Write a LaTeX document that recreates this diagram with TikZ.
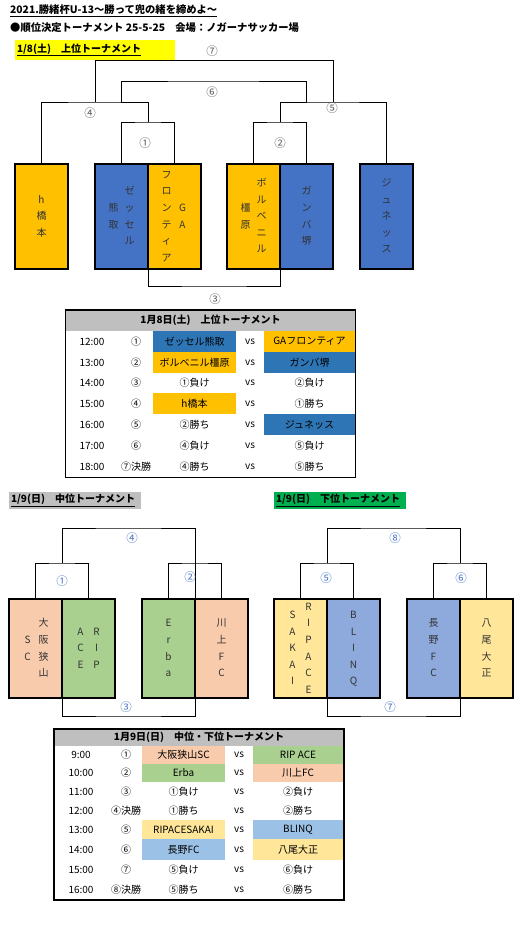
\documentclass[tikz,border=0pt]{standalone}
\usepackage{fontspec}
\setmainfont{Noto Sans CJK JP}
\usepackage{tikz}

\definecolor{teamor}{HTML}{FFC000}
\definecolor{teambl}{HTML}{4472C4}
\definecolor{cellbl}{HTML}{2E75B6}
\definecolor{peach}{HTML}{F8CBAD}
\definecolor{leaf}{HTML}{A9D08E}
\definecolor{cream}{HTML}{FFE699}
\definecolor{sky}{HTML}{8EA9DB}
\definecolor{skylt}{HTML}{9BC2E6}
\definecolor{hgray}{HTML}{BFBFBF}
\definecolor{tagyel}{HTML}{FFFF00}
\definecolor{taggrn}{HTML}{00B050}
\definecolor{labblue}{HTML}{4472C4}

\renewcommand{\arraystretch}{1.38}
\newcommand{\tate}[1]{\makebox[16pt]{\begin{tabular}[c]{@{}c@{}}#1\end{tabular}}}

\begin{document}
\begin{tikzpicture}[x=1pt, y=-1pt,
    font=\fontsize{10}{12}\selectfont,
    team/.style={draw, line width=1.4pt, minimum width=53pt, inner sep=0pt, text=black!80},
    topteam/.style={team, minimum height=105pt},
    midteam/.style={team, minimum height=99pt},
    bline/.style={line width=0.8pt},
    rnd/.style={text=black!65, inner sep=1pt, font=\fontsize{11.5}{12}\selectfont},
    rndb/.style={text=labblue, inner sep=1pt, font=\fontsize{11.5}{12}\selectfont},
    daytag/.style={inner sep=2pt, align=left, font=\bfseries\fontsize{10}{12}\selectfont},
    head/.style={fill=hgray, minimum width=290pt, inner sep=0pt, font=\bfseries\fontsize{10}{12}\selectfont},
    cellA/.style={minimum width=83pt, inner sep=0pt},
    cellB/.style={minimum width=91pt, inner sep=0pt},
    cellC/.style={minimum width=90pt, inner sep=0pt},
    txt/.style={inner sep=0pt}
  ]
  \useasboundingbox[fill=white] (0,0) rectangle (523,925);

  % titles
  \node[txt, anchor=west, font=\bfseries\fontsize{10.3}{12}\selectfont] (title) at (10,11) {\underline{2021.勝緒杯U-13～勝って兜の緒を締めよ～}};
  \node[txt, anchor=west, font=\bfseries\fontsize{10.3}{12}\selectfont] (subtitle) at (10,28) {●順位決定トーナメント 25-5-25　会場：ノガーナサッカー場};
  \node[daytag, fill=tagyel, minimum width=160pt, minimum height=20pt, text width=156pt] (upper) at (95,50) {\underline{1/8(土)　上位トーナメント}};

  % upper bracket teams
  \node[topteam, fill=teamor] (hashi) at (41.5,216.5) {\tate{h\\橋\\本}};
  \node[topteam, fill=teambl] (zesser) at (121.5,216.5) {\tate{熊\\取}\tate{ゼ\\ッ\\セ\\ル}};
  \node[topteam, fill=teamor] (ga) at (174.5,216.5) {\tate{フ\\ロ\\ン\\テ\\ィ\\ア}\tate{G\\A}};
  \node[topteam, fill=teamor] (borbe) at (253.5,216.5) {\tate{橿\\原}\tate{ボ\\ル\\ベ\\ニ\\ル}};
  \node[topteam, fill=teambl] (gamba) at (306.5,216.5) {\tate{ガ\\ン\\バ\\堺}};
  \node[topteam, fill=teambl] (junesse) at (386.5,216.5) {\tate{ジ\\ュ\\ネ\\ッ\\ス}};

  \coordinate (r1) at (148,122);
  \coordinate (r2) at (280,122);
  \coordinate (r3) at (214,286);
  \coordinate (r4) at (94,102);
  \coordinate (r5) at (333,102);
  \coordinate (s4) at (121,102);
  \coordinate (s5) at (306,102);
  \coordinate (r6) at (213,81);
  \coordinate (t4) at (95,102);
  \coordinate (r7) at (214,60.5);

  \draw[bline] (zesser.north) |- (r1) -| (ga.north);
  \draw[bline] (borbe.north) |- (r2) -| (gamba.north);
  \draw[bline] (hashi.north) |- (r4) -| (r1);
  \draw[bline] (r2) |- (r5) -| (junesse.north);
  \draw[bline] (s4) |- (r6) -| (s5);
  \draw[bline] (t4) |- (r7) -| (r5);
  \draw[bline] (zesser.south east) |- (r3) -| (borbe.south east);

  \node[rnd] (u1) at (145,143) {①};
  \node[rnd] (u2) at (280,143) {②};
  \node[rnd] (u3) at (215,299) {③};
  \node[rnd] (u4) at (90,113) {④};
  \node[rnd] (u5) at (332,108) {⑤};
  \node[rnd] (u6) at (212,92) {⑥};
  \node[rnd] (u7) at (212,51) {⑦};

  % table, 1/8
  \node[head, minimum height=21pt] (head1) at (210.5,320.5) {1月8日(土)　上位トーナメント};
  \node[txt] (t1a) at (92,341.5) {12:00}; \node[txt] (t1b) at (136,341.5) {①};
  \node[cellA, fill=cellbl, minimum height=21pt] (t1c) at (194.5,341.5) {ゼッセル熊取};
  \node[txt] (t1d) at (250,341.5) {vs};
  \node[cellB, fill=teamor, minimum height=21pt] (t1e) at (309.5,341.5) {GAフロンティア};
  \node[txt] (t2a) at (92,362.5) {13:00}; \node[txt] (t2b) at (136,362.5) {②};
  \node[cellA, fill=teamor, minimum height=21pt] (t2c) at (194.5,362.5) {ボルベニル橿原};
  \node[txt] (t2d) at (250,362.5) {vs};
  \node[cellB, fill=cellbl, minimum height=21pt] (t2e) at (309.5,362.5) {ガンバ堺};
  \node[txt] (t3a) at (92,383) {14:00}; \node[txt] (t3b) at (136,383) {③};
  \node[txt] (t3c) at (194.5,383) {①負け}; \node[txt] (t3d) at (250,383) {vs};
  \node[txt] (t3e) at (309.5,383) {②負け};
  \node[txt] (t4a) at (92,404) {15:00}; \node[txt] (t4b) at (136,404) {④};
  \node[cellA, fill=teamor, minimum height=20.5pt] (t4c) at (194.5,403.5) {h橋本};
  \node[txt] (t4d) at (250,404) {vs};
  \node[txt] (t4e) at (309.5,404) {①勝ち};
  \node[txt] (t5a) at (92,424.5) {16:00}; \node[txt] (t5b) at (136,424.5) {⑤};
  \node[txt] (t5c) at (194.5,424.5) {②勝ち}; \node[txt] (t5d) at (250,424.5) {vs};
  \node[cellB, fill=cellbl, minimum height=21pt] (t5e) at (309.5,424.5) {ジュネッス};
  \node[txt] (t6a) at (92,445.5) {17:00}; \node[txt] (t6b) at (136,445.5) {⑥};
  \node[txt] (t6c) at (194.5,445.5) {④負け}; \node[txt] (t6d) at (250,445.5) {vs};
  \node[txt] (t6e) at (309.5,445.5) {⑤負け};
  \node[txt] (t7a) at (92,466.5) {18:00}; \node[txt] (t7b) at (136,466.5) {⑦決勝};
  \node[txt] (t7c) at (194.5,466.5) {④勝ち}; \node[txt] (t7d) at (250,466.5) {vs};
  \node[txt] (t7e) at (309.5,466.5) {⑤勝ち};
  \draw[line width=1.6pt] (65.5,310) rectangle (355.5,477.5);

  % middle and lower brackets
  \node[daytag, fill=hgray, minimum width=132pt, minimum height=17pt, text width=128pt] (middle) at (75,500.5) {\underline{1/9(日)　中位トーナメント}};
  \node[daytag, fill=taggrn, minimum width=132pt, minimum height=17pt, text width=128pt] (lower) at (340,500.5) {\underline{1/9(日)　下位トーナメント}};

  \node[midteam, fill=peach] (osaka) at (35.5,648.5) {\tate{S\\C}\tate{大\\阪\\狭\\山}};
  \node[midteam, fill=leaf] (rip) at (88.5,648.5) {\tate{A\\C\\E}\tate{R\\I\\P}};
  \node[midteam, fill=leaf] (erba) at (168.5,648.5) {\tate{E\\r\\b\\a}};
  \node[midteam, fill=peach] (kawakami) at (221.5,648.5) {\tate{川\\上\\F\\C}};
  \node[midteam, fill=cream] (ripace) at (300.5,648.5) {\tate{S\\A\\K\\A\\I}\tate{R\\I\\P\\A\\C\\E}};
  \node[midteam, fill=sky] (blinq) at (353.5,648.5) {\tate{B\\L\\I\\N\\Q}};
  \node[midteam, fill=sky] (nagano) at (433.5,648.5) {\tate{長\\野\\F\\C}};
  \node[midteam, fill=cream] (yao) at (486.5,648.5) {\tate{八\\尾\\大\\正}};

  \coordinate (m1) at (62,563);
  \coordinate (m2) at (195,563);
  \coordinate (m4) at (128,528);
  \coordinate (m5) at (327,563);
  \coordinate (m6) at (460,563);
  \coordinate (m8) at (393,528);
  \coordinate (m3) at (128,716);
  \coordinate (m7) at (393,716);

  \draw[bline] (osaka.north) |- (m1) -| (rip.north);
  \draw[bline] (erba.north) |- (m2) -| (kawakami.north);
  \draw[bline] (m1) |- (m4) -| (erba.north east);
  \draw[bline] (ripace.north) |- (m5) -| (blinq.north);
  \draw[bline] (nagano.north) |- (m6) -| (yao.north);
  \draw[bline] (m5) |- (m8) -| (m6);
  \draw[bline] (osaka.south east) |- (m3) -| (erba.south east);
  \draw[bline] (ripace.south east) |- (m7) -| (nagano.south east);

  \node[rndb] (v1) at (62,581) {①};
  \node[rndb] (v2) at (190,577) {②};
  \node[rndb] (v3) at (126,707) {③};
  \node[rndb] (v4) at (132,538) {④};
  \node[rndb] (v5) at (326,578) {⑤};
  \node[rndb] (v6) at (461,578) {⑥};
  \node[rndb] (v7) at (390,707) {⑦};
  \node[rndb] (v8) at (395,538) {⑧};

  % table, 1/9
  \node[head, minimum height=17pt] (head2) at (199,737.5) {1月9日(日)　中位・下位トーナメント};
  \node[txt] (w1a) at (81,755) {9:00}; \node[txt] (w1b) at (126,755) {①};
  \node[cellA, fill=peach, minimum height=18pt] (w1c) at (183.5,755) {大阪狭山SC};
  \node[txt] (w1d) at (239,755) {vs};
  \node[cellC, fill=leaf, minimum height=18pt] (w1e) at (298,755) {RIP ACE};
  \node[txt] (w2a) at (81,773) {10:00}; \node[txt] (w2b) at (126,773) {②};
  \node[cellA, fill=leaf, minimum height=18pt] (w2c) at (183.5,773) {Erba};
  \node[txt] (w2d) at (239,773) {vs};
  \node[cellC, fill=peach, minimum height=18pt] (w2e) at (298,773) {川上FC};
  \node[txt] (w3a) at (81,791.5) {11:00}; \node[txt] (w3b) at (126,791.5) {③};
  \node[txt] (w3c) at (183.5,791.5) {①負け}; \node[txt] (w3d) at (239,791.5) {vs};
  \node[txt] (w3e) at (298,791.5) {②負け};
  \node[txt] (w4a) at (81,810.5) {12:00}; \node[txt] (w4b) at (126,810.5) {④決勝};
  \node[txt] (w4c) at (183.5,810.5) {①勝ち}; \node[txt] (w4d) at (239,810.5) {vs};
  \node[txt] (w4e) at (298,810.5) {②勝ち};
  \node[txt] (w5a) at (81,829.5) {13:00}; \node[txt] (w5b) at (126,829.5) {⑤};
  \node[cellA, fill=cream, minimum height=19pt] (w5c) at (183.5,829.5) {RIPACESAKAI};
  \node[txt] (w5d) at (239,829.5) {vs};
  \node[cellC, fill=skylt, minimum height=19pt] (w5e) at (298,829.5) {BLINQ};
  \node[txt] (w6a) at (81,849.5) {14:00}; \node[txt] (w6b) at (126,849.5) {⑥};
  \node[cellA, fill=skylt, minimum height=21pt] (w6c) at (183.5,849.5) {長野FC};
  \node[txt] (w6d) at (239,849.5) {vs};
  \node[cellC, fill=cream, minimum height=21pt] (w6e) at (298,849.5) {八尾大正};
  \node[txt] (w7a) at (81,870) {15:00}; \node[txt] (w7b) at (126,870) {⑦};
  \node[txt] (w7c) at (183.5,870) {⑤負け}; \node[txt] (w7d) at (239,870) {vs};
  \node[txt] (w7e) at (298,870) {⑥負け};
  \node[txt] (w8a) at (81,890) {16:00}; \node[txt] (w8b) at (126,890) {⑧決勝};
  \node[txt] (w8c) at (183.5,890) {⑤勝ち}; \node[txt] (w8d) at (239,890) {vs};
  \node[txt] (w8e) at (298,890) {⑥勝ち};
  \draw[line width=1.6pt] (54,729) rectangle (344,900);
\end{tikzpicture}
\end{document}
